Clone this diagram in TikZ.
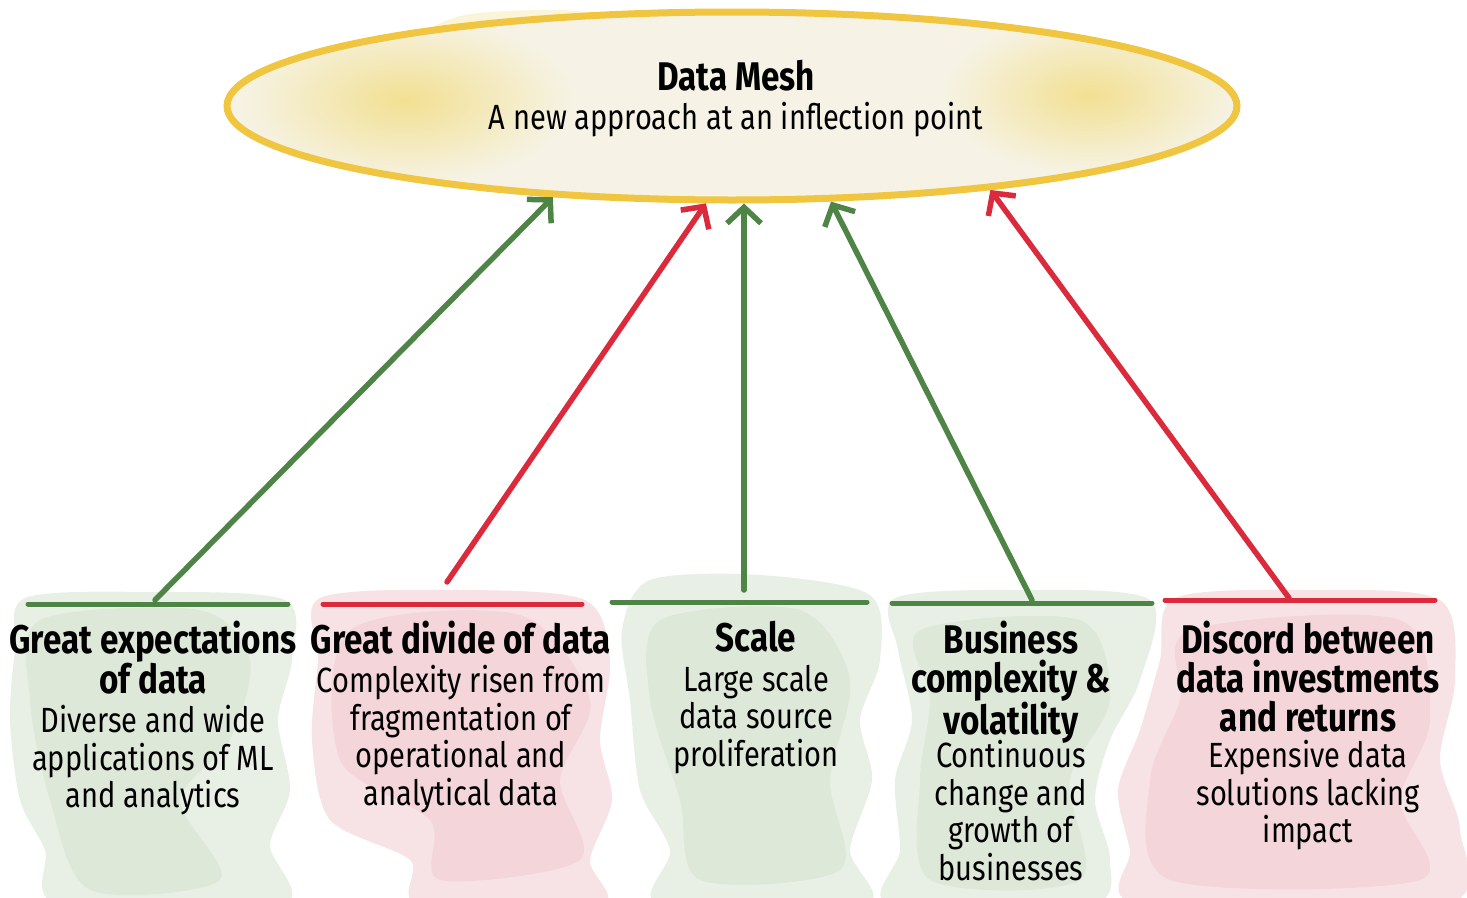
\documentclass[tikz,border=0pt]{standalone}
\usepackage{fontspec}
\setmainfont{Fira Sans}[FakeStretch=0.83]
\usetikzlibrary{shapes.geometric}
\usetikzlibrary{positioning}
\usetikzlibrary{arrows.meta}
\definecolor{meshgold}{HTML}{F0C540}
\definecolor{meshfill}{HTML}{F6F3E6}
\definecolor{glowy}{HTML}{F2E092}
\definecolor{arrg}{HTML}{4F8447}
\definecolor{arrr}{HTML}{DA2A3B}
\definecolor{washg}{HTML}{D6E2CF}
\definecolor{washr}{HTML}{F1CBD1}
\tikzset{
    meshnode/.style = {ellipse, draw=meshgold, line width=7pt, minimum width=1010pt, minimum height=188pt, inner sep=0pt, align=center},
    headtxt/.style = {align=center, inner sep=0pt, font=\fontsize{40}{39}\selectfont\bfseries},
    bodytxt/.style = {align=center, inner sep=0pt, font=\fontsize{35}{37.5}\selectfont},
    upg/.style = {-{Straight Barb[length=16pt,width=34pt]}, line width=5.5pt, line cap=round, arrg},
    upr/.style = {-{Straight Barb[length=16pt,width=34pt]}, line width=5.5pt, line cap=round, arrr},
    barg/.style = {line width=5pt, line cap=round, arrg},
    barr/.style = {line width=5pt, line cap=round, arrr},
    washgreen/.style = {fill=washg, fill opacity=0.55},
    washred/.style = {fill=washr, fill opacity=0.55},
}
\begin{document}
\begin{tikzpicture}[x=1pt,y=-1pt]
\clip (0,0) rectangle (1467,897);
% watercolour washes
\fill[washgreen] plot[smooth cycle] coordinates {(25,598) (150,592) (285,600) (292,660) (278,720) (290,790) (270,845) (282,905) (60,905) (45,850) (20,800) (10,720) (15,650)};
\fill[washgreen] plot[smooth cycle] coordinates {(40,620) (200,610) (250,660) (230,740) (180,800) (220,880) (90,890) (50,800) (30,700)};
\fill[washred] plot[smooth cycle] coordinates {(320,598) (460,590) (585,600) (610,660) (600,740) (612,800) (590,860) (600,905) (420,905) (410,860) (330,820) (312,740) (318,660)};
\fill[washred] plot[smooth cycle] coordinates {(350,630) (520,615) (590,700) (560,780) (580,860) (440,880) (430,820) (340,760)};
\fill[washgreen] plot[smooth cycle] coordinates {(650,580) (760,575) (870,595) (880,660) (860,720) (872,780) (850,850) (865,905) (660,905) (670,850) (640,790) (630,700) (622,630)};
\fill[washgreen] plot[smooth cycle] coordinates {(660,620) (800,610) (850,680) (830,780) (840,870) (700,880) (680,800) (650,700)};
\fill[washgreen] plot[smooth cycle] coordinates {(895,598) (1020,590) (1150,600) (1140,680) (1110,740) (1095,800) (1110,860) (1090,905) (890,905) (900,850) (895,780) (912,720) (898,650)};
\fill[washgreen] plot[smooth cycle] coordinates {(920,630) (1080,620) (1110,700) (1070,780) (1080,880) (930,880) (920,780) (930,700)};
\fill[washred] plot[smooth cycle] coordinates {(1175,598) (1310,590) (1440,600) (1455,680) (1440,760) (1460,830) (1445,905) (1140,905) (1130,850) (1118,790) (1140,730) (1160,660)};
\fill[washred] plot[smooth cycle] coordinates {(1190,630) (1400,620) (1430,720) (1400,800) (1420,880) (1170,880) (1150,780) (1180,700)};
\fill[glowy!35] plot[smooth cycle] coordinates {(430,30) (470,14) (560,10) (610,18) (600,40) (450,45)};
\fill[glowy!35] plot[smooth cycle] coordinates {(1150,60) (1175,64) (1185,90) (1170,110) (1150,100)};
% mesh ellipse
\fill[meshfill] (732,106) ellipse [x radius=505, y radius=94];
\begin{scope}
\clip (732,106) ellipse [x radius=505, y radius=94];
\shade[inner color=glowy, outer color=meshfill] (405,100) ellipse [x radius=170, y radius=85];
\shade[inner color=glowy, outer color=meshfill] (1090,95) ellipse [x radius=150, y radius=80];
\end{scope}
\node[meshnode] (mesh) at (732,106) {};
\node[headtxt] (mtitle) at (736,76) {Data Mesh};
\node[bodytxt, below=10pt of mtitle] (msub) {A new approach at an inflection point};
%
\draw[barg] (28,604) -- (288,604);
\draw[barr] (323,604) -- (582,604);
\draw[barg] (612,602) -- (867,602);
\draw[barg] (892,603) -- (1152,603);
\draw[barr] (1165,600) -- (1435,600);
%
\node[headtxt, anchor=north] (t1) at (153,621) {Great expectations\\of data};
\node[bodytxt, anchor=north] (d1) at (153,705) {Diverse and wide\\applications of ML\\and analytics};
\node[headtxt, anchor=north] (t2) at (461,621) {Great divide of data};
\node[bodytxt, anchor=north] (d2) at (461,665) {Complexity risen from\\fragmentation of\\operational and\\analytical data};
\node[headtxt, anchor=north] (t3) at (756,621) {Scale};
\node[bodytxt, anchor=north] (d3) at (756,665) {Large scale\\data source\\proliferation};
\node[headtxt, anchor=north] (t4) at (1011,621) {Business\\complexity \&\\volatility};
\node[bodytxt, anchor=north] (d4) at (1011,740) {Continuous\\change and\\growth of\\businesses};
\node[headtxt, anchor=north] (t5) at (1308,621) {Discord between\\data investments\\and returns};
\node[bodytxt, anchor=north] (d5) at (1308,740) {Expensive data\\solutions lacking\\impact};
%
\coordinate (f1) at (155,600);
\coordinate (f2) at (447,582);
\coordinate (f3) at (744,590);
\coordinate (f4) at (1032,600);
\coordinate (f5) at (1289,598);
\draw[upg] (f1) -- (mesh.207.4);
\draw[upr] (f2) -- (mesh.255);
\draw[upg] (f3) -- (f3 |- mesh.south);
\draw[upg] (f4) -- (mesh.316);
\draw[upr] (f5) -- (mesh.342);
\end{tikzpicture}
\end{document}
